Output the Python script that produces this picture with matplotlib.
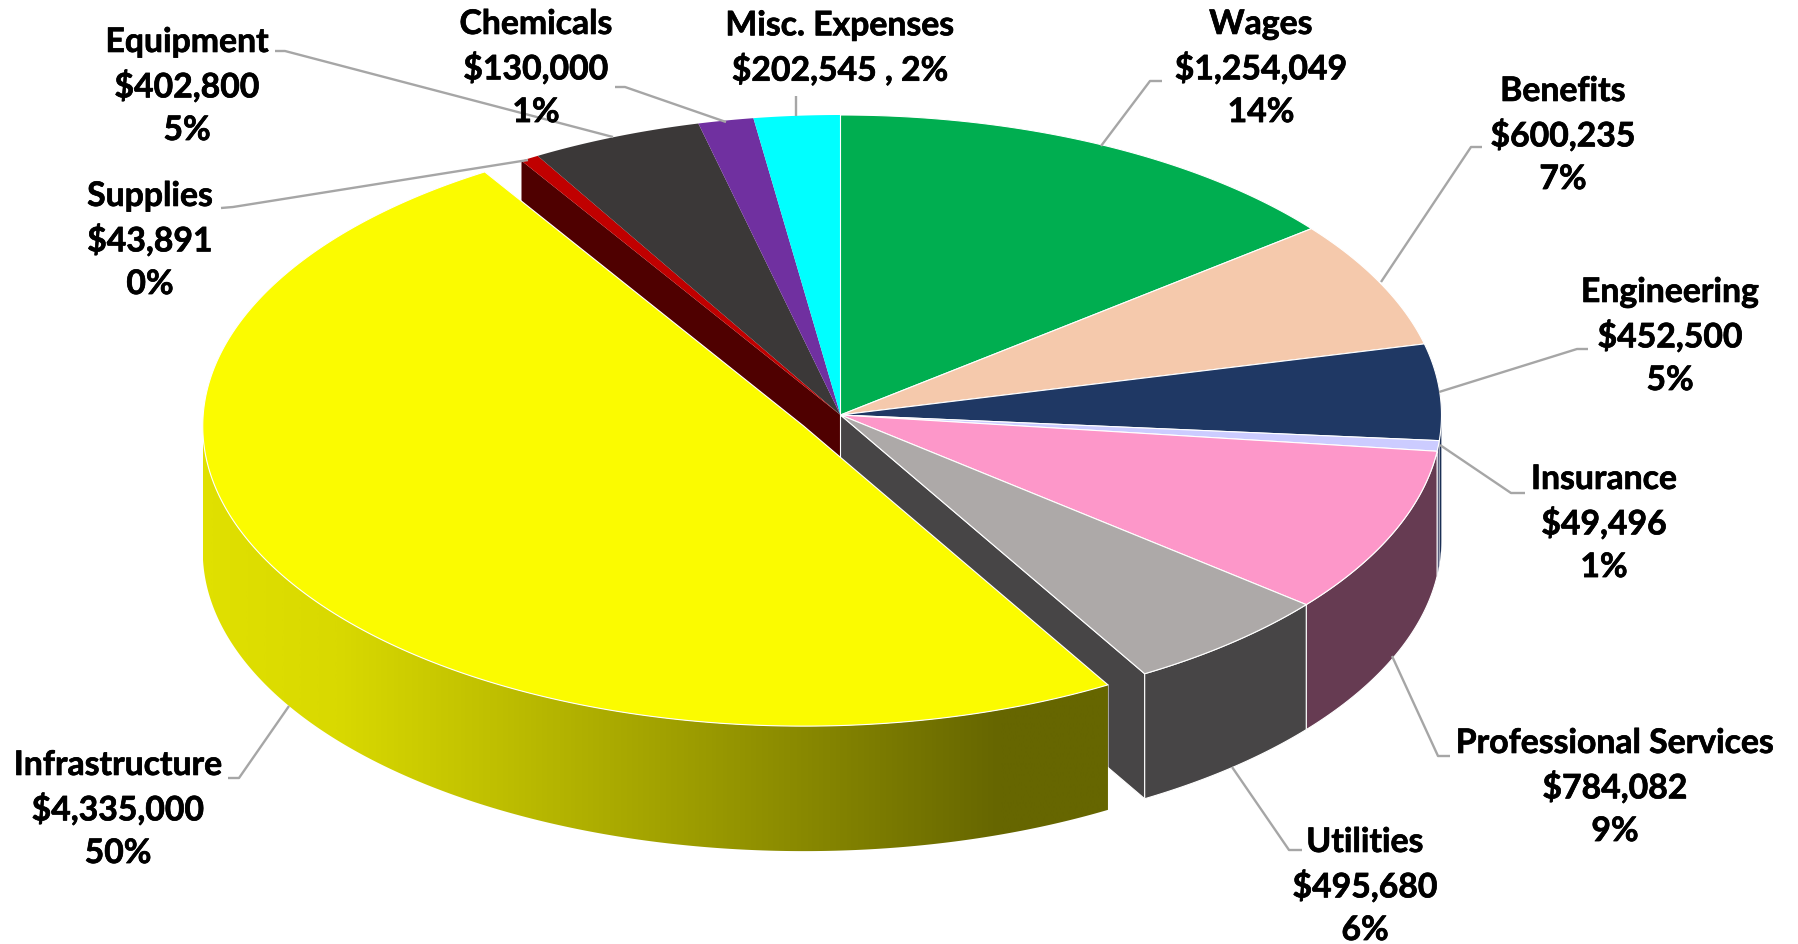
import numpy as np
import matplotlib
matplotlib.use("Agg")
import matplotlib.pyplot as plt
import matplotlib.patheffects as pe
from matplotlib.patches import Polygon
from matplotlib.colors import LinearSegmentedColormap

# Budget figures, clockwise from twelve o'clock
categories = ["Wages", "Benefits", "Engineering", "Insurance", "Professional Services",
              "Utilities", "Infrastructure", "Supplies", "Equipment", "Chemicals", "Misc. Expenses"]
amounts = [1254049, 600235, 452500, 49496, 784082, 495680, 4335000, 43891, 402800, 130000, 202545]
percents = ["14%", "7%", "5%", "1%", "9%", "6%", "50%", "0%", "5%", "1%", "2%"]

top_colors = ["#00AE50", "#F5C9AC", "#1F3864", "#CCCCFF", "#FD97C9", "#ADA9A8",
              "#FBFB00", "#C00000", "#3B3838", "#7030A0", "#00FFFF"]
side_colors = ["#006830", "#93786A", "#1B2F55", "#5A5F80", "#663B52", "#474546",
               "#6A6A00", "#4F0000", "#232222", "#431D60", "#009999"]

# Slices along the back of the pie carry no white outline
unoutlined = ["Supplies", "Equipment", "Chemicals", "Misc. Expenses"]

# Pie geometry in figure pixels
CX, CY = 840.5, 415.0
RX, RY = 601.0, 300.0
DEPTH = 125.0
EXPLODE = 0.0715
EXPLODED = "Infrastructure"

# Label centres and leader polylines (figure pixels)
label_pos = {
    "Wages": (1261, 68), "Benefits": (1563, 135), "Engineering": (1670, 336),
    "Insurance": (1604, 523), "Professional Services": (1615, 787),
    "Utilities": (1365, 886), "Infrastructure": (118, 809),
    "Supplies": (150, 240), "Equipment": (187, 86), "Chemicals": (536, 68),
    "Misc. Expenses": (840, 48),
}
leaders = {
    "Wages": [(1162, 81), (1150, 81), (1101, 146)],
    "Benefits": [(1482, 147), (1471, 147), (1381, 282)],
    "Engineering": [(1588, 349), (1577, 349), (1439, 392)],
    "Insurance": [(1525, 493), (1511, 493), (1440, 445)],
    "Professional Services": [(1450, 756), (1438, 756), (1392, 656)],
    "Utilities": [(1302, 850), (1289, 850), (1232, 767)],
    "Infrastructure": [(228, 778), (239, 778), (289, 706)],
    "Supplies": [(221, 208), (233, 207), (528, 160)],
    "Equipment": [(275, 51), (285, 51), (613, 137)],
    "Chemicals": [(615, 87), (625, 87), (726, 122)],
    "Misc. Expenses": [(796, 96), (796, 116)],
}

plt.rcParams["font.family"] = ["Lato", "DejaVu Sans"]
fig = plt.figure(figsize=(17.98, 9.44), dpi=100)
ax = fig.add_axes([0, 0, 1, 1])
ax.set_axis_off()


def rim(t, cx=CX, cy=CY):
    """Screen points on the pie's top rim for clockwise angles t (radians from north)."""
    return np.column_stack([cx + RX * np.sin(t), cy - RY * np.cos(t)])


def arc(a, b):
    return np.linspace(a, b, max(int(abs(b - a) * 120), 2))


def wall_outline(a, b, cx, cy):
    top = rim(arc(a, b), cx, cy)
    return np.vstack([top, (top + [0, DEPTH])[::-1]])


EDGE = dict(edgecolor="white", linewidth=0.8, joinstyle="round")
NO_EDGE = dict(edgecolor="none", linewidth=0)

fractions = np.array(amounts) / np.sum(amounts)
bounds = 2 * np.pi * np.concatenate([[0], np.cumsum(fractions)])
ex = categories.index(EXPLODED)
order = [i for i, c in enumerate(categories) if c != EXPLODED]
order.sort(key=lambda i: categories[i] not in unoutlined)

# Faces exposed by pulling the large slice out of the pie
cut_start, cut_end = bounds[ex], bounds[ex + 1]
for angle, idx in ((cut_end, ex + 1), (cut_start, ex - 1)):
    p = rim(np.array([angle]))[0]
    face = [(CX, CY), tuple(p), (p[0], p[1] + DEPTH), (CX, CY + DEPTH)]
    style = NO_EDGE if categories[idx] in unoutlined else EDGE
    ax.add_patch(Polygon(face, closed=True, facecolor=side_colors[idx], zorder=1, **style))

# Outer walls of the fixed slices that face the viewer
for i in order:
    a, b = max(bounds[i], np.pi / 2), min(bounds[i + 1], 3 * np.pi / 2)
    if b > a:
        ax.add_patch(Polygon(wall_outline(a, b, CX, CY), closed=True,
                             facecolor=side_colors[i], zorder=2, edgecolor="white",
                             linewidth=0.8 if b - a > 0.2 else 0.2))

# Top faces of the fixed slices
for i in order:
    pts = np.vstack([[CX, CY], rim(arc(bounds[i], bounds[i + 1]))])
    style = NO_EDGE if categories[i] in unoutlined else EDGE
    ax.add_patch(Polygon(pts, closed=True, facecolor=top_colors[i], zorder=3, **style))

# The exploded slice, its wall shaded from left to right
mid = 0.5 * (cut_start + cut_end)
ox = CX + EXPLODE * RX * np.sin(mid)
oy = CY - EXPLODE * RY * np.cos(mid)

wall = Polygon(wall_outline(cut_start, 3 * np.pi / 2, ox, oy), closed=True,
               facecolor="none", zorder=4, **EDGE)
ax.add_patch(wall)
x0, x1 = ox - RX, ox + RX * np.sin(cut_start)
shade = LinearSegmentedColormap.from_list(
    "wall", [(0.0, (0.88, 0.88, 0)), (0.15, (0.85, 0.85, 0)), (0.33, (0.745, 0.745, 0)),
             (0.88, (0.40, 0.40, 0)), (1.0, (0.40, 0.40, 0))])
img = ax.imshow(np.linspace(0, 1, 512)[None, :], cmap=shade, vmin=0, vmax=1, aspect="auto",
                extent=(x0, x1, CY + RY + DEPTH + 40, CY - 40), zorder=4, interpolation="bilinear")
img.set_clip_path(wall)

pts = np.vstack([[ox, oy], rim(arc(cut_start, cut_end), ox, oy)])
ax.add_patch(Polygon(pts, closed=True, facecolor=top_colors[ex], zorder=5, **EDGE))

# Leader lines, then the labels over them
for name in categories:
    xs, ys = zip(*leaders[name])
    ax.plot(xs, ys, color="#A6A6A6", lw=1.7, zorder=6, solid_capstyle="butt")

for name, amount, pct in zip(categories, amounts, percents):
    if name == "Misc. Expenses":
        text = f"{name}\n${amount:,} , {pct}"
    else:
        text = f"{name}\n${amount:,}\n{pct}"
    x, y = label_pos[name]
    t = ax.text(x, y, text, ha="center", va="center", ma="center", fontsize=24.3,
                fontweight="bold", color="black", linespacing=1.41, zorder=7)
    t.set_path_effects([pe.withStroke(linewidth=0.5, foreground="black")])

ax.set_xlim(0, 1798)
ax.set_ylim(944, 0)
fig.savefig("out.png", dpi=100, facecolor="white")
